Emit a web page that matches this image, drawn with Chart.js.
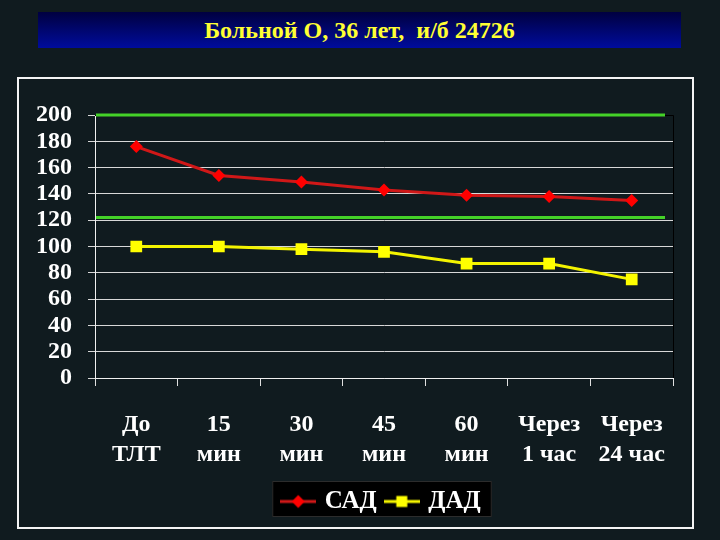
<!DOCTYPE html>
<html>
<head>
<meta charset="utf-8">
<script src="https://cdn.jsdelivr.net/npm/chart.js@4"></script>
<style>
  body { margin: 0; background: #101b1f; width: 720px; height: 540px; overflow: hidden; position: relative; }
  #banner {
    position: absolute; left: 38px; top: 12px; width: 643px; height: 36px;
    background: linear-gradient(#000040, #000c9c);
    color: #ffff33; font: bold 24px 'Liberation Serif', serif;
    text-align: center; line-height: 37px; white-space: pre;
  }
  #frame {
    position: absolute; left: 17px; top: 77px; width: 673px; height: 448px;
    border: 2px solid #f4f4f4;
  }
  #myChart { position: absolute; left: 0; top: 0; }
</style>
</head>
<body>
<div id="banner">Больной О, 36 лет,  и/б 24726</div>
<div id="frame"></div>
<canvas id="myChart" width="720" height="540"></canvas>
<script>
const labels = [['До', 'ТЛТ'], ['15', 'мин'], ['30', 'мин'], ['45', 'мин'], ['60', 'мин'], ['Через', '1 час'], ['Через', '24 час']];
const sad = [176, 154, 149, 143, 139, 138, 135];
const dad = [100, 100, 98, 96, 87, 87, 75];
const seriesNames = ['САД', 'ДАД'];
const normLines = [200, 122];

// small legend sample: line with marker in the middle
function legendSample(lineColor, markColor, shape){
    const c = document.createElement('canvas');
    c.width = 36; c.height = 16;
    const g = c.getContext('2d');
    g.strokeStyle = lineColor;
    g.lineWidth = 3;
    g.beginPath(); g.moveTo(0, 8); g.lineTo(36, 8); g.stroke();
    g.fillStyle = markColor;
    if(shape === 'diamond'){
        g.beginPath(); g.moveTo(18, 1.5); g.lineTo(24.5, 8); g.lineTo(18, 14.5); g.lineTo(11.5, 8); g.closePath(); g.fill();
    } else {
        g.fillRect(12.5, 2.5, 11, 11);
    }
    return c;
}
const samples = [legendSample('#d01818', '#ff0000', 'diamond'), legendSample('#f4f400', '#ffff00', 'square')];

const extras = {
    id: 'extras',
    afterLayout(chart){
        // legend in the original sits right of centre
        chart.legend.left += 46;
        chart.legend.right += 46;
    },
    beforeDraw(chart){
        const ctx = chart.ctx;
        const hb = chart.legend.legendHitBoxes;
        if(!hb || !hb.length) return;
        const left = hb[0].left - 12;
        const right = hb[hb.length - 1].left + hb[hb.length - 1].width + 11;
        const top = chart.legend.top + 3;
        ctx.save();
        ctx.fillStyle = '#000000';
        ctx.fillRect(left, top, right - left, 36);
        ctx.strokeStyle = '#2c2c2c';
        ctx.lineWidth = 1;
        ctx.strokeRect(left + 0.5, top + 0.5, right - left - 1, 35);
        ctx.restore();
    },
    beforeDatasetsDraw(chart){
        const ctx = chart.ctx;
        const a = chart.chartArea;
        const y = chart.scales.y;
        ctx.save();
        ctx.strokeStyle = '#000000';
        ctx.lineWidth = 1;
        ctx.beginPath();
        ctx.moveTo(a.left, a.top + 0.5); ctx.lineTo(a.right + 0.5, a.top + 0.5); ctx.lineTo(a.right + 0.5, a.bottom);
        ctx.stroke();
        ctx.strokeStyle = '#44d228';
        ctx.lineWidth = 3;
        normLines.forEach(v => {
            const py = y.getPixelForValue(v);
            ctx.beginPath();
            ctx.moveTo(a.left + 1, py);
            ctx.lineTo(a.right - 8, py);
            ctx.stroke();
        });
        ctx.restore();
    }
};

const ctx = document.getElementById('myChart');
const myChart = new Chart(ctx, {
    type: 'line',
    data: {
        labels: labels,
        datasets: [{
            label: seriesNames[0],
            data: sad,
            borderColor: '#d01818',
            backgroundColor: '#ff0000',
            borderWidth: 3,
            pointStyle: 'rectRot',
            pointRadius: 6.5,
            pointBorderWidth: 0,
            pointBackgroundColor: '#ff0000',
            tension: 0
        }, {
            label: seriesNames[1],
            data: dad,
            borderColor: '#f4f400',
            backgroundColor: '#ffff00',
            borderWidth: 3,
            pointStyle: 'rect',
            pointRadius: 8.3,
            pointBorderWidth: 0,
            pointBackgroundColor: '#ffff00',
            tension: 0
        }]
    },
    options: {
        responsive: false,
        animation: false,
        layout: { padding: { top: 115, left: 0, right: 47, bottom: 16 } },
        scales: {
            x: {
                offset: true,
                afterFit: s => { s.height = 100; },
                grid: { offset: true, drawOnChartArea: false, drawTicks: true, tickLength: 8, color: '#e0e0e0', lineWidth: 1 },
                border: { color: '#f0f0f0', width: 1 },
                ticks: {
                    color: '#ffffff', padding: 24, maxRotation: 0, autoSkip: false,
                    font: { family: "'Liberation Serif', serif", size: 24, weight: 'bold', lineHeight: 1.25 }
                }
            },
            y: {
                min: 0, max: 200,
                afterFit: s => { s.width = 95; },
                grid: { color: '#d8d8d8', lineWidth: 1, tickLength: 7 },
                border: { color: '#f0f0f0', width: 1 },
                ticks: {
                    stepSize: 20, color: '#ffffff', padding: 16, autoSkip: false,
                    font: { family: "'Liberation Serif', serif", size: 24, weight: 'bold', lineHeight: 0.9 }
                }
            }
        },
        plugins: {
            tooltip: { enabled: false },
            legend: {
                position: 'bottom',
                labels: {
                    usePointStyle: true,
                    pointStyleWidth: 28,
                    padding: 11,
                    color: '#ffffff',
                    font: { family: "'Liberation Serif', serif", size: 25, weight: 'bold' },
                    generateLabels: chart => chart.data.datasets.map((ds, i) => ({
                        text: ds.label,
                        pointStyle: samples[i],
                        fillStyle: ds.backgroundColor,
                        strokeStyle: 'transparent',
                        lineWidth: 0,
                        hidden: false,
                        datasetIndex: i,
                        fontColor: '#ffffff'
                    }))
                }
            }
        }
    },
    plugins: [extras]
});
</script>
</body>
</html>
